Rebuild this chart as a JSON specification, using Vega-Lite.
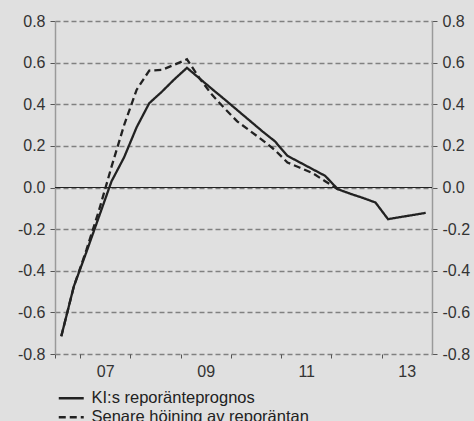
{
  "$schema": "https://vega.github.io/schema/vega-lite/v6.json",
  "autosize": "none",
  "width": 377,
  "height": 333,
  "padding": {"left": 55, "top": 21, "right": 42, "bottom": 67},
  "background": "#e0e0e0",
  "config": {
    "view": {"stroke": null},
    "font": "Liberation Sans",
    "axis": {"labelFont": "Liberation Sans", "labelFontSize": 16, "labelColor": "#333333", "title": null}
  },
  "datasets": {
    "series": [
      {"t": 2006.625, "v": -0.715, "s": "KI:s reporänteprognos"},
      {"t": 2006.875, "v": -0.475, "s": "KI:s reporänteprognos"},
      {"t": 2007.125, "v": -0.31, "s": "KI:s reporänteprognos"},
      {"t": 2007.375, "v": -0.14, "s": "KI:s reporänteprognos"},
      {"t": 2007.625, "v": 0.03, "s": "KI:s reporänteprognos"},
      {"t": 2007.875, "v": 0.145, "s": "KI:s reporänteprognos"},
      {"t": 2008.125, "v": 0.29, "s": "KI:s reporänteprognos"},
      {"t": 2008.375, "v": 0.405, "s": "KI:s reporänteprognos"},
      {"t": 2008.625, "v": 0.46, "s": "KI:s reporänteprognos"},
      {"t": 2008.875, "v": 0.52, "s": "KI:s reporänteprognos"},
      {"t": 2009.125, "v": 0.575, "s": "KI:s reporänteprognos"},
      {"t": 2009.375, "v": 0.524, "s": "KI:s reporänteprognos"},
      {"t": 2009.625, "v": 0.473, "s": "KI:s reporänteprognos"},
      {"t": 2009.875, "v": 0.423, "s": "KI:s reporänteprognos"},
      {"t": 2010.125, "v": 0.372, "s": "KI:s reporänteprognos"},
      {"t": 2010.375, "v": 0.321, "s": "KI:s reporänteprognos"},
      {"t": 2010.625, "v": 0.27, "s": "KI:s reporänteprognos"},
      {"t": 2010.875, "v": 0.222, "s": "KI:s reporänteprognos"},
      {"t": 2011.125, "v": 0.152, "s": "KI:s reporänteprognos"},
      {"t": 2011.375, "v": 0.12, "s": "KI:s reporänteprognos"},
      {"t": 2011.625, "v": 0.088, "s": "KI:s reporänteprognos"},
      {"t": 2011.875, "v": 0.056, "s": "KI:s reporänteprognos"},
      {"t": 2012.125, "v": -0.008, "s": "KI:s reporänteprognos"},
      {"t": 2012.375, "v": -0.03, "s": "KI:s reporänteprognos"},
      {"t": 2012.625, "v": -0.05, "s": "KI:s reporänteprognos"},
      {"t": 2012.875, "v": -0.072, "s": "KI:s reporänteprognos"},
      {"t": 2013.125, "v": -0.152, "s": "KI:s reporänteprognos"},
      {"t": 2013.375, "v": -0.142, "s": "KI:s reporänteprognos"},
      {"t": 2013.625, "v": -0.132, "s": "KI:s reporänteprognos"},
      {"t": 2013.875, "v": -0.122, "s": "KI:s reporänteprognos"},
      {"t": 2006.625, "v": -0.715, "s": "Senare höjning av reporäntan"},
      {"t": 2006.875, "v": -0.475, "s": "Senare höjning av reporäntan"},
      {"t": 2007.125, "v": -0.30, "s": "Senare höjning av reporäntan"},
      {"t": 2007.375, "v": -0.11, "s": "Senare höjning av reporäntan"},
      {"t": 2007.625, "v": 0.10, "s": "Senare höjning av reporäntan"},
      {"t": 2007.875, "v": 0.30, "s": "Senare höjning av reporäntan"},
      {"t": 2008.125, "v": 0.47, "s": "Senare höjning av reporäntan"},
      {"t": 2008.375, "v": 0.562, "s": "Senare höjning av reporäntan"},
      {"t": 2008.625, "v": 0.565, "s": "Senare höjning av reporäntan"},
      {"t": 2008.875, "v": 0.59, "s": "Senare höjning av reporäntan"},
      {"t": 2009.125, "v": 0.616, "s": "Senare höjning av reporäntan"},
      {"t": 2009.375, "v": 0.525, "s": "Senare höjning av reporäntan"},
      {"t": 2009.625, "v": 0.445, "s": "Senare höjning av reporäntan"},
      {"t": 2009.875, "v": 0.38, "s": "Senare höjning av reporäntan"},
      {"t": 2010.125, "v": 0.318, "s": "Senare höjning av reporäntan"},
      {"t": 2010.375, "v": 0.273, "s": "Senare höjning av reporäntan"},
      {"t": 2010.625, "v": 0.228, "s": "Senare höjning av reporäntan"},
      {"t": 2010.875, "v": 0.18, "s": "Senare höjning av reporäntan"},
      {"t": 2011.125, "v": 0.12, "s": "Senare höjning av reporäntan"},
      {"t": 2011.375, "v": 0.095, "s": "Senare höjning av reporäntan"},
      {"t": 2011.625, "v": 0.069, "s": "Senare höjning av reporäntan"},
      {"t": 2011.875, "v": 0.03, "s": "Senare höjning av reporäntan"},
      {"t": 2012.125, "v": -0.008, "s": "Senare höjning av reporäntan"}
    ],
    "zero": [{"z": 0}]
  },
  "layer": [
    {
      "data": {"name": "zero"},
      "mark": {"type": "rule", "color": "#222222", "strokeWidth": 1.2},
      "encoding": {
        "y": {
          "field": "z", "type": "quantitative",
          "scale": {"domain": [-0.8, 0.8], "nice": false, "zero": false},
          "axis": {
            "orient": "right", "grid": false,
            "values": [-0.8, -0.6, -0.4, -0.2, 0, 0.2, 0.4, 0.6, 0.8],
            "labelExpr": "replace(format(datum.value, '.1f'), '\u2212', '-')",
            "domainColor": "#9a9a9a", "domainWidth": 1.5,
            "tickColor": "#555555", "tickSize": 5, "labelPadding": 5
          }
        }
      }
    },
    {
      "data": {"name": "series"},
      "mark": {"type": "line", "strokeWidth": 2.3, "color": "#222222"},
      "encoding": {
        "x": {
          "field": "t", "type": "quantitative",
          "scale": {"domain": [2006.5, 2014], "nice": false, "zero": false},
          "axis": {
            "values": [2006.5, 2007, 2008, 2009, 2010, 2011, 2012, 2013],
            "labelExpr": "datum.value % 2 == 1 ? format(datum.value - 2000, '02d') : ''",
            "labelOffset": 25, "labelOverlap": false, "labelFlush": false, "labelBound": false,
            "grid": false, "domain": false,
            "tickColor": "#555555", "tickSize": 4, "labelPadding": 5
          }
        },
        "y": {
          "field": "v", "type": "quantitative",
          "scale": {"domain": [-0.8, 0.8], "nice": false, "zero": false},
          "axis": {
            "orient": "left",
            "values": [-0.8, -0.6, -0.4, -0.2, 0, 0.2, 0.4, 0.6, 0.8],
            "labelExpr": "replace(format(datum.value, '.1f'), '\u2212', '-')",
            "domainColor": "#9a9a9a", "domainWidth": 1.5,
            "tickColor": "#555555", "tickSize": 5, "labelPadding": 5,
            "grid": true, "gridColor": "#808080", "gridDash": [5, 3], "gridWidth": 1.3
          }
        },
        "strokeDash": {
          "field": "s", "type": "nominal",
          "scale": {"domain": ["KI:s reporänteprognos", "Senare höjning av reporäntan"], "range": [[1, 0], [7, 4]]},
          "legend": {
            "title": null, "orient": "none", "legendX": 8, "legendY": 369,
            "symbolType": "M-2,0H2", "symbolSize": 156, "symbolStrokeWidth": 2.3, "symbolStrokeColor": "#222222",
            "labelFontSize": 16.5, "labelColor": "#222222", "labelFont": "Liberation Sans", "labelLimit": 0,
            "rowPadding": 2, "labelOffset": 12
          }
        }
      }
    }
  ],
  "resolve": {"axis": {"y": "independent"}}
}
